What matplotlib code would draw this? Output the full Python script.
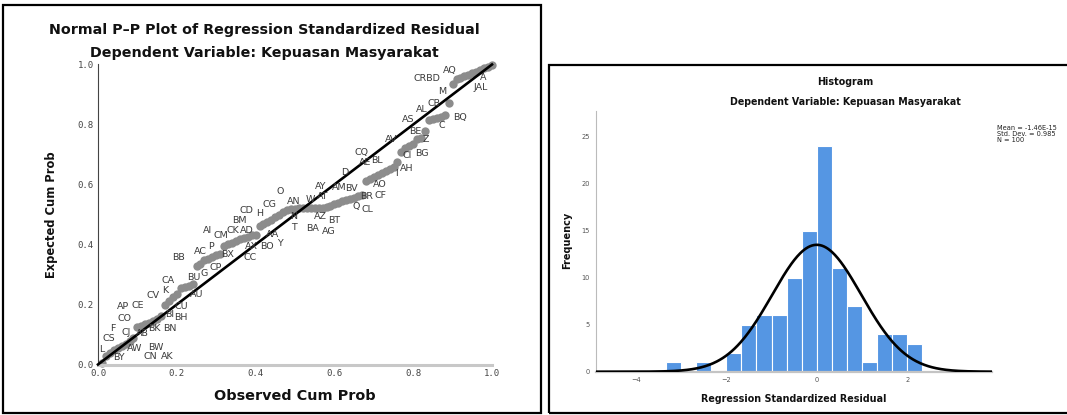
import numpy as np
import matplotlib
matplotlib.use("Agg")
import matplotlib.pyplot as plt
from matplotlib.patches import Rectangle

# ---------------- data: Normal P-P plot ----------------
obs_cum = [0.01, 0.02, 0.03, 0.04, 0.05, 0.06, 0.07, 0.08, 0.09, 0.10,
           0.11, 0.12, 0.13, 0.14, 0.15, 0.16, 0.17, 0.18, 0.19, 0.20,
           0.21, 0.22, 0.23, 0.24, 0.25, 0.26, 0.27, 0.28, 0.29, 0.30,
           0.31, 0.32, 0.33, 0.34, 0.35, 0.36, 0.37, 0.38, 0.39, 0.40,
           0.41, 0.42, 0.43, 0.44, 0.45, 0.46, 0.47, 0.48, 0.49, 0.50,
           0.51, 0.52, 0.53, 0.54, 0.55, 0.56, 0.57, 0.58, 0.59, 0.60,
           0.61, 0.62, 0.63, 0.64, 0.65, 0.66, 0.67, 0.68, 0.69, 0.70,
           0.71, 0.72, 0.73, 0.74, 0.75, 0.76, 0.77, 0.78, 0.79, 0.80,
           0.81, 0.82, 0.83, 0.84, 0.85, 0.86, 0.87, 0.88, 0.89, 0.90,
           0.91, 0.92, 0.93, 0.94, 0.95, 0.96, 0.97, 0.98, 0.99, 1.00]
exp_cum = [0.005, 0.030, 0.040, 0.048, 0.055, 0.062, 0.070, 0.078, 0.090, 0.125,
           0.129, 0.134, 0.140, 0.146, 0.153, 0.161, 0.200, 0.212, 0.224, 0.236,
           0.255, 0.259, 0.263, 0.268, 0.330, 0.334, 0.348, 0.353, 0.358, 0.364,
           0.370, 0.395, 0.400, 0.405, 0.411, 0.417, 0.422, 0.426, 0.430, 0.433,
           0.460, 0.467, 0.474, 0.482, 0.490, 0.499, 0.508, 0.515, 0.518, 0.519,
           0.520, 0.520, 0.520, 0.521, 0.521, 0.521, 0.522, 0.525, 0.529, 0.534,
           0.539, 0.544, 0.548, 0.552, 0.556, 0.560, 0.564, 0.610, 0.618, 0.625,
           0.632, 0.638, 0.644, 0.650, 0.657, 0.676, 0.708, 0.720, 0.728, 0.735,
           0.752, 0.755, 0.778, 0.815, 0.818, 0.821, 0.825, 0.830, 0.871, 0.935,
           0.950, 0.955, 0.960, 0.965, 0.970, 0.975, 0.980, 0.987, 0.993, 0.998]

# case labels visible in the plot and where they sit (data coordinates)
case_labels = ["AQ", "CRBD", "A", "JAL", "M", "CB", "AL", "AS", "BQ", "C",
               "BE", "Z", "AV", "CQ", "AE", "BL", "CI", "BG", "AH", "I",
               "D", "AO", "AY", "AM", "BV", "BR", "CF", "W", "AT", "O",
               "AN", "CG", "CD", "H", "BM", "N", "T", "Q", "CL", "AZ",
               "BT", "BA", "AG", "AI", "CM", "CK", "AD", "AA", "AC", "P",
               "BX", "AX", "BO", "Y", "CC", "BB", "CP", "G", "BU", "CA",
               "K", "CV", "AU", "AP", "CE", "CU", "CO", "BI", "BH", "F",
               "CJ", "AB", "BK", "BN", "CS", "L", "AW", "BW", "BY", "CN", "AK"]
label_x = [0.893, 0.836, 0.978, 0.971, 0.873, 0.853, 0.823, 0.788, 0.919, 0.873,
           0.805, 0.832, 0.744, 0.670, 0.679, 0.708, 0.786, 0.821, 0.784, 0.757,
           0.627, 0.714, 0.565, 0.613, 0.644, 0.683, 0.716, 0.539, 0.570, 0.463,
           0.496, 0.436, 0.376, 0.410, 0.360, 0.496, 0.497, 0.655, 0.683, 0.565,
           0.600, 0.544, 0.585, 0.277, 0.312, 0.343, 0.378, 0.443, 0.260, 0.286,
           0.330, 0.389, 0.428, 0.463, 0.385, 0.205, 0.299, 0.269, 0.243, 0.179,
           0.171, 0.140, 0.251, 0.064, 0.100, 0.212, 0.068, 0.182, 0.210, 0.038,
           0.072, 0.113, 0.144, 0.182, 0.027, 0.009, 0.092, 0.147, 0.053, 0.134, 0.175]
label_y = [0.980, 0.952, 0.958, 0.922, 0.911, 0.870, 0.850, 0.817, 0.822, 0.797,
           0.776, 0.750, 0.750, 0.708, 0.672, 0.681, 0.697, 0.702, 0.652, 0.637,
           0.641, 0.600, 0.592, 0.589, 0.587, 0.561, 0.564, 0.550, 0.559, 0.576,
           0.544, 0.533, 0.514, 0.503, 0.481, 0.492, 0.458, 0.528, 0.517, 0.492,
           0.480, 0.453, 0.442, 0.448, 0.431, 0.448, 0.448, 0.433, 0.376, 0.392,
           0.367, 0.392, 0.392, 0.402, 0.356, 0.356, 0.322, 0.303, 0.289, 0.280,
           0.247, 0.230, 0.233, 0.194, 0.198, 0.194, 0.153, 0.167, 0.158, 0.120,
           0.108, 0.102, 0.119, 0.120, 0.086, 0.050, 0.052, 0.058, 0.022, 0.026, 0.026]

pp_ticks = [0.0, 0.2, 0.4, 0.6, 0.8, 1.0]

# ---------------- data: histogram ----------------
bin_left = [-10/3, -3, -8/3, -7/3, -2, -5/3, -4/3, -1, -2/3, -1/3,
            0, 1/3, 2/3, 1, 4/3, 5/3, 2]
bin_count = [1, 0, 1, 0, 2, 5, 6, 6, 10, 15, 24, 11, 7, 1, 4, 4, 3]
bin_width = 1/3
res_mean = -1.46e-15
res_sd = 0.985
res_n = 100
hist_xticks = [-4, -2, 0, 2]
hist_yticks = [0, 5, 10, 15, 20, 25]

W, H = 1067, 415
fig = plt.figure(figsize=(W/100, H/100), dpi=100)

def fx(px):
    return px / W

def fy(py):
    return 1 - py / H

# panel frames
fig.patches.append(Rectangle((fx(3), fy(413)), fx(538), (413 - 5) / H,
                             transform=fig.transFigure, fill=False, ec="black", lw=1.6))
fig.patches.append(Rectangle((fx(549), fy(413)), fx(530), (413 - 65) / H,
                             transform=fig.transFigure, fill=False, ec="black", lw=1.6))

# ---------------- left: P-P plot ----------------
ax1 = fig.add_axes([fx(98), fy(364.5), fx(492 - 98), (364.5 - 64.5) / H])
ax1.set_xlim(0, 1)
ax1.set_ylim(0, 1)
ax1.plot(obs_cum, exp_cum, "o", color="#8c8c8c", ms=6.0, mec="none", zorder=2, clip_on=False)
ax1.plot([0, 1], [0, 1], color="black", lw=1.9, zorder=3, clip_on=False)
for t, x, y in zip(case_labels, label_x, label_y):
    ax1.text(x, y, t, fontsize=6.8, color="#3a3a3a", ha="center", va="center", zorder=4)
for s in ["top", "right"]:
    ax1.spines[s].set_visible(False)
ax1.spines["left"].set_color("#444444")
ax1.spines["left"].set_linewidth(0.8)
ax1.spines["bottom"].set_color("#c8c8c8")
ax1.spines["bottom"].set_linewidth(2.2)
ax1.set_xticks(pp_ticks)
ax1.set_yticks(pp_ticks)
ax1.set_xticklabels([f"{v:.1f}" for v in pp_ticks])
ax1.set_yticklabels([f"{v:.1f}" for v in pp_ticks])
ax1.tick_params(length=0, labelsize=6.5, colors="#444444", pad=3)
for lab in ax1.get_xticklabels() + ax1.get_yticklabels():
    lab.set_family("DejaVu Sans Mono")

fig.text(fx(264), fy(30.3), "Normal P\u2013P Plot of Regression Standardized Residual",
         ha="center", va="center", fontsize=10.3, fontweight="bold", color="#111111")
fig.text(fx(264), fy(52.8), "Dependent Variable: Kepuasan Masyarakat",
         ha="center", va="center", fontsize=10.3, fontweight="bold", color="#111111")
fig.text(fx(295), fy(396), "Observed Cum Prob", ha="center", va="center",
         fontsize=10.4, fontweight="bold", color="#111111")
fig.text(fx(52), fy(214.5), "Expected Cum Prob", ha="center", va="center",
         fontsize=8.3, fontweight="bold", color="#111111", rotation=90)

# ---------------- right: histogram ----------------
ax2 = fig.add_axes([fx(595.7), fy(371.7), fx(991.7 - 595.7), (371.7 - 110.7) / H])
ax2.set_xlim(-4.89, 3.87)
ax2.set_ylim(0, 27.77)
ax2.bar(bin_left, bin_count, width=bin_width, align="edge", color="#5596e3",
        edgecolor="white", linewidth=0.8, zorder=2)
xs = np.linspace(-4.89, 3.87, 400)
curve = res_n * bin_width * np.exp(-0.5 * ((xs - res_mean) / res_sd) ** 2) / (res_sd * np.sqrt(2 * np.pi))
ax2.plot(xs, curve, color="black", lw=1.9, zorder=3)
for s in ["top", "right"]:
    ax2.spines[s].set_visible(False)
ax2.spines["left"].set_color("#bbbbbb")
ax2.spines["left"].set_linewidth(0.8)
ax2.spines["bottom"].set_color("#c4c4c4")
ax2.spines["bottom"].set_linewidth(1.6)
ax2.set_xticks(hist_xticks)
ax2.set_yticks(hist_yticks)
ax2.set_xticklabels([str(v).replace("-", "\u2212") for v in hist_xticks])
ax2.tick_params(length=0, labelsize=4.8, colors="#555555", pad=4)

fig.text(fx(845), fy(82.3), "Histogram", ha="center", va="center",
         fontsize=6.9, fontweight="bold", color="#111111")
fig.text(fx(845), fy(102.3), "Dependent Variable: Kepuasan Masyarakat", ha="center",
         va="center", fontsize=6.85, fontweight="bold", color="#111111")
fig.text(fx(793.3), fy(399.3), "Regression Standardized Residual", ha="center",
         va="center", fontsize=6.9, fontweight="bold", color="#111111")
fig.text(fx(566.7), fy(240), "Frequency", ha="center", va="center", rotation=90,
         fontsize=7.0, fontweight="bold", color="#111111")
fig.text(fx(997.3), fy(124.5),
         f"Mean = {res_mean:.2E}\nStd. Dev. = {res_sd:.3f}\nN = {res_n}",
         ha="left", va="top", fontsize=4.8, color="#222222", linespacing=1.05)

fig.savefig("out.png", dpi=100)
